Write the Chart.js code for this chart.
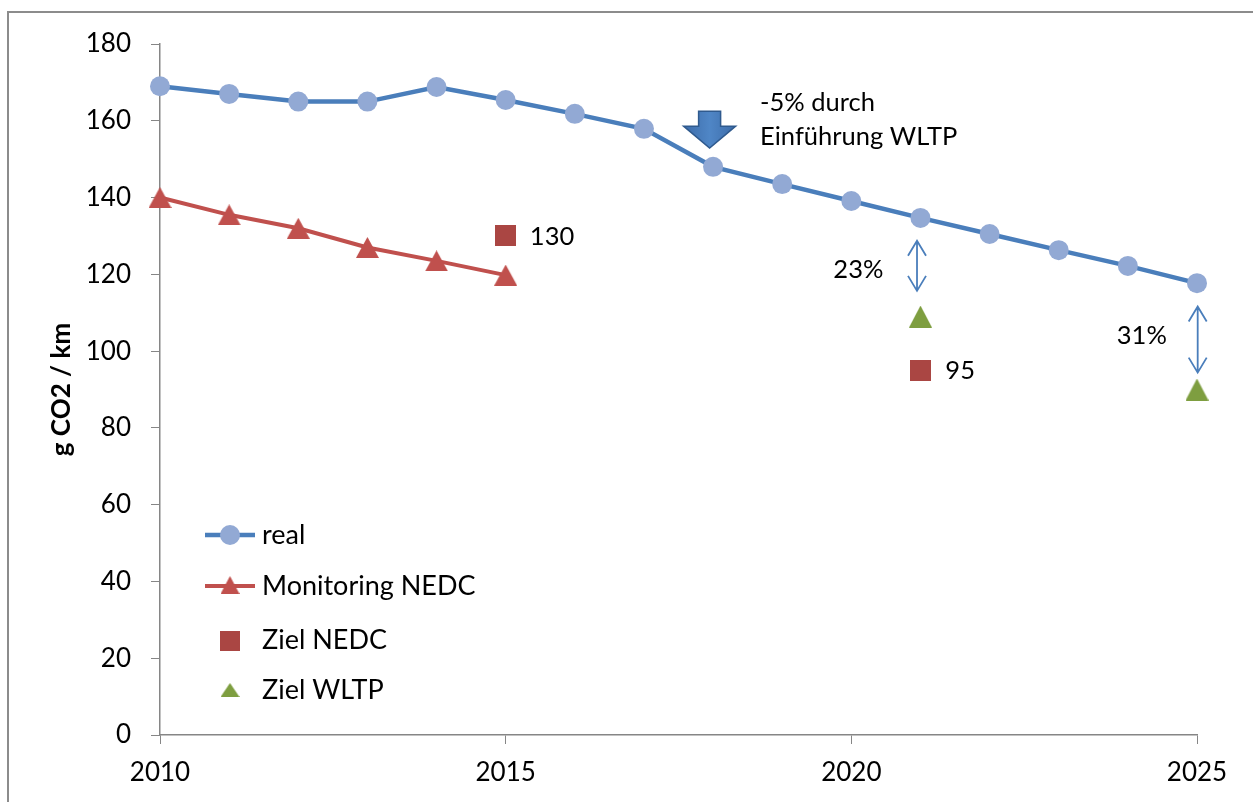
<!DOCTYPE html>
<html><head><meta charset="utf-8">
<script src="https://cdn.jsdelivr.net/npm/chart.js@4.4.0/dist/chart.umd.min.js"></script>
<style>html,body{margin:0;padding:0;background:#fff;overflow:hidden}#c{display:block}</style>
</head><body>
<canvas id="c" width="1253" height="802"></canvas>
<script>
// ---- data ----
const years = [2010,2011,2012,2013,2014,2015,2016,2017,2018,2019,2020,2021,2022,2023,2024,2025];
const realValues = [169,167,165,165,168.8,165.4,161.8,157.9,148,143.5,139.1,134.7,130.5,126.3,122.2,117.7];
const monitoringYears = [2010,2011,2012,2013,2014,2015];
const monitoringValues = [140,135.5,132,127,123.5,119.8];
const zielNedcYears = [2015,2021];
const zielNedcValues = [130,95];
const zielWltpYears = [2021,2025];
const zielWltpValues = [109,90];
const seriesLabels = ['real','Monitoring NEDC','Ziel NEDC','Ziel WLTP'];
const xTickStep = 5;
const yTickStep = 20;
const yTitle = 'g CO2 / km';
const noteLines = ['-5% durch','Einführung WLTP'];
const gapLabels = ['23%','31%'];

const FONT = 'Lato, "Liberation Sans", sans-serif';
const C_REAL_LINE = '#4A7EBB', C_REAL_PT = '#92A9D4';
const C_MON = '#C0504D', C_NEDC = '#AA4643', C_WLTP = '#7E9E40';

function triImg(color,w,h){const c=document.createElement('canvas');c.width=w;c.height=h;const g=c.getContext('2d');g.fillStyle=color;g.beginPath();g.moveTo(w/2,0);g.lineTo(w,h);g.lineTo(0,h);g.closePath();g.fill();return c;}
function sqImg(color,s){const c=document.createElement('canvas');c.width=s;c.height=s;const g=c.getContext('2d');g.fillStyle=color;g.fillRect(0,0,s,s);return c;}
const triRed = triImg(C_MON,23,21), triGreen = triImg(C_WLTP,23,22), sqRed = sqImg(C_NEDC,21);
const triRedL = triImg(C_MON,19,18), triGreenL = triImg(C_WLTP,19,14), sqRedL = sqImg(C_NEDC,20);

const pts = (xs,ys)=>xs.map((x,i)=>({x,y:ys[i]}));

const framePlugin = {
  id:'frame',
  beforeDraw(chart){const g=chart.ctx;g.save();g.fillStyle='#fff';g.fillRect(0,0,chart.width,chart.height);
    g.strokeStyle='#8C8C8C';g.lineWidth=2;g.strokeRect(8,12,chart.width+20,chart.height+20);g.restore();}
};

const annotPlugin = {
  id:'annot',
  afterDatasetsDraw(chart){
    const g=chart.ctx, X=chart.scales.x, Y=chart.scales.y;
    const px=v=>X.getPixelForValue(v), py=v=>Y.getPixelForValue(v);
    g.save();
    // block arrow
    const ax=px(2017.95), top=py(162.5), headTop=py(158.6), tip=py(152.9);
    const grad=g.createLinearGradient(ax-27,0,ax+27,0);
    grad.addColorStop(0,'#3C6BA8');grad.addColorStop(0.5,'#4F86C6');grad.addColorStop(1,'#3C6BA8');
    g.beginPath();
    g.moveTo(ax-11,top);g.lineTo(ax+11,top);g.lineTo(ax+11,headTop);g.lineTo(ax+26,headTop);
    g.lineTo(ax,tip);g.lineTo(ax-26,headTop);g.lineTo(ax-11,headTop);g.closePath();
    g.fillStyle=grad;g.fill();g.strokeStyle='#2F5A8E';g.lineWidth=1.5;g.stroke();
    // texts
    g.fillStyle='#000';g.font='25.5px '+FONT;g.textAlign='left';g.textBaseline='middle';
    g.fillText(noteLines[0],px(2018.68),py(164.6));
    g.fillText(noteLines[1],px(2018.68),py(155.8));
    g.fillText(String(zielNedcValues[0]),px(2015.35),py(129.7));
    g.fillText(String(zielNedcValues[1]),px(2021.36),py(94.8));
    g.fillText(gapLabels[0],px(2019.74),py(121.1));
    g.fillText(gapLabels[1],px(2023.84),py(103.9));
    // double arrows
    function dbl(x,y1,y2){const X1=px(x),a=py(y1),b=py(y2);
      g.strokeStyle=C_REAL_LINE;g.lineWidth=1.8;g.beginPath();g.moveTo(X1,a);g.lineTo(X1,b);
      g.moveTo(X1-9,a+15);g.lineTo(X1,a);g.lineTo(X1+9,a+15);
      g.moveTo(X1-9,b-15);g.lineTo(X1,b);g.lineTo(X1+9,b-15);g.stroke();}
    dbl(2020.95,128.75,115.7);
    dbl(2025.01,111.6,94.4);
    // legend
    const lx=205, tx=262, rows=[535,586,640,690];
    g.lineWidth=4.5;g.strokeStyle=C_REAL_LINE;g.beginPath();g.moveTo(lx,rows[0]);g.lineTo(lx+50,rows[0]);g.stroke();
    g.fillStyle=C_REAL_PT;g.beginPath();g.arc(lx+25,rows[0],10,0,Math.PI*2);g.fill();
    g.lineWidth=4;g.strokeStyle=C_MON;g.beginPath();g.moveTo(lx,rows[1]);g.lineTo(lx+50,rows[1]);g.stroke();
    g.drawImage(triRedL,lx+25-9.5,rows[1]-10);
    g.drawImage(sqRedL,lx+25-10,rows[2]-9);
    g.drawImage(triGreenL,lx+25-9.5,rows[3]-7);
    g.fillStyle='#000';g.font='27px '+FONT;
    seriesLabels.forEach((t,i)=>g.fillText(t,tx,rows[i]));
    g.restore();
  }
};

new Chart(document.getElementById('c'),{
  type:'line',
  data:{datasets:[
    {label:seriesLabels[0],data:pts(years,realValues),borderColor:C_REAL_LINE,borderWidth:4.5,pointStyle:'circle',pointRadius:10,pointBackgroundColor:C_REAL_PT,pointBorderWidth:0,tension:0,clip:false},
    {label:seriesLabels[1],data:pts(monitoringYears,monitoringValues),borderColor:C_MON,borderWidth:4,pointStyle:triRed,tension:0,clip:false},
    {label:seriesLabels[2],data:pts(zielNedcYears,zielNedcValues),showLine:false,pointStyle:sqRed,clip:false},
    {label:seriesLabels[3],data:pts(zielWltpYears,zielWltpValues),showLine:false,pointStyle:triGreen,clip:false}
  ]},
  options:{
    responsive:false,animation:false,events:[],
    layout:{padding:{left:46,top:44,right:56,bottom:0}},
    plugins:{legend:{display:false},tooltip:{enabled:false}},
    scales:{
      x:{type:'linear',min:2010,max:2025,
        ticks:{stepSize:xTickStep,callback:v=>String(v),color:'#000',font:{family:FONT,size:26},padding:13,maxRotation:0},
        grid:{drawOnChartArea:false,tickLength:9,color:'#868686',tickColor:'#868686'},
        border:{color:'#868686',width:1.5},
        afterFit:s=>{s.height=802-735;}},
      y:{min:0,max:180,
        ticks:{stepSize:yTickStep,color:'#000',font:{family:FONT,size:26},padding:20},
        grid:{drawOnChartArea:false,tickLength:9,color:'#868686',tickColor:'#868686'},
        border:{color:'#868686',width:1.5},
        title:{display:true,text:yTitle,color:'#000',font:{family:FONT,size:26,weight:'bold'},padding:{top:0,bottom:4}},
        afterFit:s=>{s.width=160-46;}}
    }
  },
  plugins:[framePlugin,annotPlugin]
});
</script>
</body></html>
